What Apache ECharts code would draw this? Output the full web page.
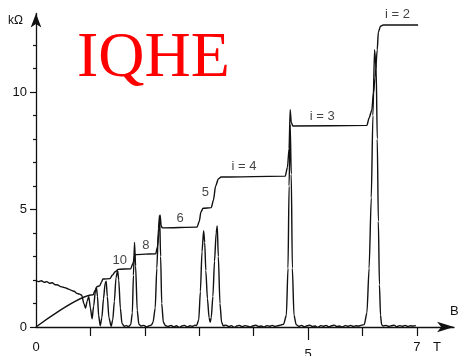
<!DOCTYPE html>
<html>
<head>
<meta charset="utf-8">
<script src="https://cdn.jsdelivr.net/npm/echarts@6/dist/echarts.min.js"></script>
<style>
html,body{margin:0;padding:0;background:#fff;}
#c{width:463px;height:356px;}
</style>
</head>
<body>
<div id="c"></div>
<script>
// Hall resistance R_xy (kOhm) vs B (T)
const hallB = [0, 1.05, 1.09, 1.12, 1.17, 1.20, 1.23, 1.36, 1.40, 1.46, 1.51, 1.74, 1.78, 1.82, 2.20, 2.23, 2.26, 2.28, 2.30, 2.32, 2.96, 3.00, 3.03, 3.07, 3.22, 3.26, 3.30, 3.35, 3.40, 4.58, 4.62, 4.65, 4.67, 4.69, 4.72, 6.08, 6.12, 6.17, 6.20, 6.23, 6.27, 6.29, 6.33, 6.38, 7.02];
const hallR = [0, 1.37, 1.58, 1.72, 1.75, 1.90, 2.04, 2.06, 2.20, 2.36, 2.45, 2.48, 2.70, 3.08, 3.12, 3.40, 4.00, 4.77, 4.30, 4.22, 4.25, 4.50, 4.90, 5.05, 5.08, 5.40, 6.00, 6.30, 6.38, 6.42, 6.80, 7.60, 9.25, 8.70, 8.55, 8.58, 8.90, 9.23, 9.96, 10.6, 11.8, 12.55, 12.80, 12.85, 12.85];

// Longitudinal resistance R_xx vs B (T)
const rxxB = [0, 0.05, 0.10, 0.15, 0.20, 0.25, 0.30, 0.35, 0.40, 0.45, 0.50, 0.55, 0.60, 0.65, 0.70, 0.75, 0.80, 0.84, 0.88, 0.91, 0.94, 0.97, 1.00, 1.03, 1.06, 1.09, 1.11, 1.13, 1.15, 1.18, 1.21, 1.24, 1.27, 1.29, 1.31, 1.34, 1.38, 1.41, 1.44, 1.47, 1.50, 1.52, 1.55, 1.58, 1.62, 1.66, 1.70, 1.74, 1.77, 1.79, 1.81, 1.83, 1.86, 1.89, 1.93, 1.98, 2.03, 2.08, 2.12, 2.15, 2.19, 2.22, 2.25, 2.27, 2.29, 2.31, 2.34, 2.38, 2.43, 2.48, 2.53, 2.58, 2.63, 2.68, 2.73, 2.78, 2.83, 2.88, 2.92, 2.95, 2.99, 3.02, 3.05, 3.08, 3.10, 3.12, 3.15, 3.18, 3.20, 3.22, 3.25, 3.28, 3.31, 3.33, 3.35, 3.38, 3.41, 3.44, 3.49, 3.54, 3.59, 3.64, 3.69, 3.74, 3.79, 3.84, 3.89, 3.94, 3.99, 4.04, 4.09, 4.14, 4.19, 4.24, 4.29, 4.34, 4.39, 4.44, 4.49, 4.55, 4.60, 4.63, 4.65, 4.67, 4.69, 4.71, 4.74, 4.78, 4.83, 4.88, 4.93, 4.98, 5.03, 5.08, 5.13, 5.18, 5.23, 5.28, 5.33, 5.38, 5.43, 5.48, 5.53, 5.58, 5.63, 5.68, 5.73, 5.78, 5.83, 5.88, 5.93, 5.98, 6.03, 6.08, 6.12, 6.16, 6.19, 6.22, 6.25, 6.27, 6.29, 6.31, 6.33, 6.35, 6.38, 6.43, 6.48, 6.53, 6.58, 6.63, 6.68, 6.73, 6.78, 6.83, 6.88, 6.93, 6.98, 7.02];
const rxxR = [1.95, 1.93, 1.97, 1.90, 1.93, 1.86, 1.88, 1.80, 1.79, 1.72, 1.69, 1.66, 1.61, 1.56, 1.52, 1.43, 1.40, 1.35, 1.00, 0.80, 1.10, 1.30, 0.80, 0.35, 0.90, 1.50, 1.68, 1.30, 0.50, 0.05, 0.40, 1.20, 1.85, 1.95, 1.30, 0.40, 0.03, 0.30, 1.10, 2.10, 2.40, 2.00, 0.80, 0.15, 0.03, 0.06, 0.02, 0.10, 0.60, 2.20, 3.60, 2.60, 0.70, 0.12, 0.04, 0.07, 0.01, 0.05, 0.08, 0.20, 0.80, 2.50, 4.20, 4.75, 3.00, 1.00, 0.20, 0.05, 0.02, 0.07, 0.01, 0.05, -0.02, 0.04, 0.07, 0.00, 0.05, 0.03, 0.08, 0.06, 0.30, 1.50, 3.20, 4.10, 3.60, 2.40, 1.20, 0.40, 0.20, 0.40, 1.30, 2.80, 4.00, 4.30, 3.00, 1.00, 0.20, 0.05, 0.08, 0.02, 0.06, -0.02, 0.04, 0.07, 0.01, 0.06, 0.03, 0.00, 0.05, 0.08, 0.02, 0.04, -0.01, 0.06, 0.03, 0.07, 0.02, 0.05, 0.08, 0.12, 0.50, 2.50, 6.00, 8.60, 6.50, 2.50, 0.50, 0.10, 0.03, 0.07, 0.01, 0.05, 0.08, 0.02, 0.04, -0.02, 0.06, 0.03, 0.07, 0.01, 0.05, 0.08, 0.02, 0.04, 0.00, 0.06, 0.03, 0.07, 0.02, 0.05, 0.04, 0.08, 0.10, 0.60, 2.50, 5.50, 9.00, 11.8, 11.0, 8.00, 4.50, 1.80, 0.50, 0.10, 0.04, 0.07, 0.02, 0.05, 0.08, 0.01, 0.06, 0.03, 0.07, 0.02, 0.05, 0.04, 0.06];

// Plateau labels
const plateauText = ['i = 2', 'i = 3', 'i = 4', '5', '6', '8', '10'];
const plateauB = [6.64, 5.26, 3.82, 3.11, 2.65, 2.02, 1.54];
const plateauR = [13.3, 8.98, 6.85, 5.74, 4.64, 3.49, 2.85];

// Tick values / labels
const xMinorTicks = [1, 2, 3, 4, 6, 7];
const xLabels = [0, 7];
const xMajor = [5];
const yMinorTicks = [1, 2, 3, 4, 6, 7, 8, 9, 11, 12];
const yMajor = [0, 5, 10];

const hall = hallB.map((b, i) => [b, hallR[i]]);
const rxx = rxxB.map((b, i) => [b, rxxR[i]]);
const labels = plateauText.map((t, i) => ({ value: [plateauB[i], plateauR[i]], name: t }));

const FONT = 'Liberation Sans, Arial, sans-serif';
const INK = '#111';

const chart = echarts.init(document.getElementById('c'), null, { renderer: 'canvas' });
chart.setOption({
  animation: false,
  backgroundColor: '#fff',
  grid: { left: 36, right: 9, top: 13.5, bottom: 29, containLabel: false, outerBoundsMode: 'none' },
  xAxis: [{
    type: 'value', min: 0, max: 7.68,
    axisLine: { show: true, symbol: ['none', 'arrow'], symbolSize: [8, 17], lineStyle: { color: INK, width: 1.3 } },
    axisTick: { show: true, customValues: xMinorTicks, length: 9, lineStyle: { color: INK, width: 1.2 } },
    axisLabel: { show: true, customValues: xLabels, margin: 14, color: INK, fontSize: 13, fontFamily: FONT },
    splitLine: { show: false }
  }, {
    type: 'value', min: 0, max: 7.68, position: 'bottom',
    axisLine: { show: false },
    axisTick: { show: true, customValues: xMajor, length: 13, lineStyle: { color: INK, width: 1.2 } },
    axisLabel: { show: true, customValues: xMajor, margin: 21, color: INK, fontSize: 13, fontFamily: FONT },
    splitLine: { show: false }
  }],
  yAxis: [{
    type: 'value', min: 0, max: 13.34,
    axisLine: { show: true, symbol: ['none', 'arrow'], symbolSize: [8, 14], lineStyle: { color: INK, width: 1.3 } },
    axisTick: { show: true, customValues: yMinorTicks, length: 3, lineStyle: { color: INK, width: 1.2 } },
    axisLabel: { show: false },
    splitLine: { show: false }
  }, {
    type: 'value', min: 0, max: 13.34, position: 'left',
    axisLine: { show: false },
    axisTick: { show: true, customValues: yMajor, length: 6, lineStyle: { color: INK, width: 1.2 } },
    axisLabel: { show: true, customValues: yMajor, margin: 9, color: INK, fontSize: 13, fontFamily: FONT },
    splitLine: { show: false }
  }],
  series: [{
    type: 'line', data: rxx, showSymbol: false, smooth: 0.25, smoothMonotone: 'x',
    lineStyle: { color: INK, width: 1.4 }, z: 3
  }, {
    type: 'line', data: hall, showSymbol: false, smooth: 0.25, smoothMonotone: 'x',
    lineStyle: { color: INK, width: 1.4 }, z: 4
  }, {
    type: 'scatter', data: labels, symbolSize: 1, itemStyle: { color: 'rgba(0,0,0,0)' },
    label: { show: true, position: 'inside', formatter: p => p.name, color: INK, fontSize: 13, fontFamily: FONT }, z: 5
  }],
  graphic: [
    { type: 'text', left: 8, top: 15, style: { text: 'kΩ', fill: INK, font: '12px ' + FONT } },
    { type: 'text', left: 450, top: 305, style: { text: 'B', fill: INK, font: '13px ' + FONT } },
    { type: 'text', left: 433, top: 341, style: { text: 'T', fill: INK, font: '13px ' + FONT } },
    { type: 'text', left: 77, top: 27, style: { text: 'IQHE', fill: '#ff0000', font: '64px "Liberation Serif", "Times New Roman", serif' } }
  ]
});
</script>
</body>
</html>
